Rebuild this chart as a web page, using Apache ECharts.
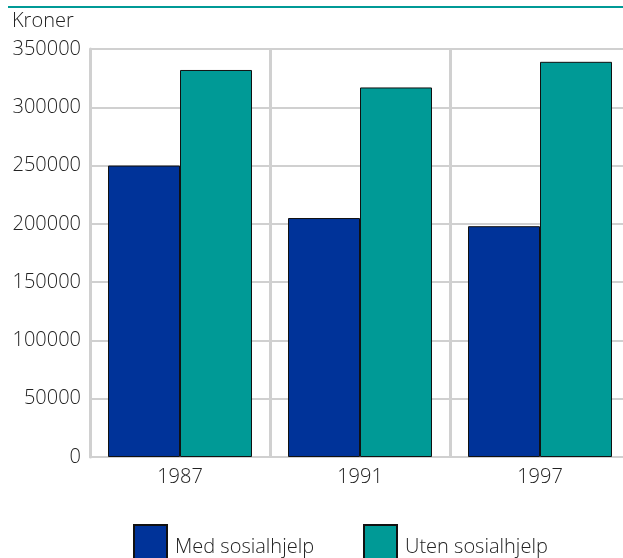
<!DOCTYPE html>
<html><head><meta charset="utf-8">
<script src="https://cdn.jsdelivr.net/npm/echarts@6/dist/echarts.min.js"></script>
<style>html,body{margin:0;padding:0;background:#fff}#c{width:623px;height:558px}</style>
</head><body><div id="c"></div>
<script>
const categories = ['1987', '1991', '1997'];
const medSosialhjelp = [250000, 205000, 198000];
const utenSosialhjelp = [332000, 317000, 339000];
const yTicks = [0, 50000, 100000, 150000, 200000, 250000, 300000, 350000];
const seriesNames = ['Med sosialhjelp', 'Uten sosialhjelp'];

const FONT = '"Open Sans", sans-serif';
const FW = 300;
const FS = 20;
const TXT = '#222';
const chart = echarts.init(document.getElementById('c'), null, {renderer: 'canvas'});
chart.setOption({
  animation: false,
  backgroundColor: '#fff',
  graphic: [
    {type: 'line', shape: {x1: 8, y1: 7, x2: 623, y2: 7}, style: {stroke: '#009a96', lineWidth: 2}},
    {type: 'text', left: 12, top: 11, style: {text: 'Kroner', font: FW + ' ' + FS + 'px ' + FONT, fill: TXT}}
  ],
  legend: [
    {data: [seriesNames[0]], left: 133, top: 524, padding: 0, itemWidth: 33, itemHeight: 44, icon: 'rect',
     textStyle: {fontFamily: FONT, fontWeight: FW, fontSize: FS, color: TXT, padding: [0, 0, 0, 3]}},
    {data: [seriesNames[1]], left: 363, top: 524, padding: 0, itemWidth: 33, itemHeight: 44, icon: 'rect',
     textStyle: {fontFamily: FONT, fontWeight: FW, fontSize: FS, color: TXT, padding: [0, 0, 0, 3]}}
  ],
  grid: {left: 90, width: 540, top: 49, height: 408, containLabel: false, outerBoundsMode: 'none'},
  xAxis: {
    type: 'category', data: categories,
    axisLine: {show: true, lineStyle: {color: '#d0d0d0', width: 2}},
    axisTick: {show: false},
    splitLine: {show: true, lineStyle: {color: '#d0d0d0', width: 3}},
    axisLabel: {fontFamily: FONT, fontWeight: FW, fontSize: FS, color: TXT, margin: 10}
  },
  yAxis: {
    type: 'value', min: 0, max: yTicks[yTicks.length - 1], interval: yTicks[1] - yTicks[0],
    axisLine: {show: true, lineStyle: {color: '#d0d0d0', width: 3}},
    axisTick: {show: false},
    splitLine: {show: true, lineStyle: {color: '#d0d0d0', width: 2}},
    axisLabel: {fontFamily: FONT, fontWeight: FW, fontSize: FS, color: TXT, margin: 9,
                formatter: v => String(v)}
  },
  series: [
    {name: seriesNames[0], type: 'bar', data: medSosialhjelp, barWidth: 72, barGap: '0%',
     itemStyle: {color: '#003399', borderColor: '#111', borderWidth: 1}},
    {name: seriesNames[1], type: 'bar', data: utenSosialhjelp, barWidth: 72, barGap: '0%',
     itemStyle: {color: '#009a96', borderColor: '#111', borderWidth: 1}}
  ]
});
</script></body></html>
